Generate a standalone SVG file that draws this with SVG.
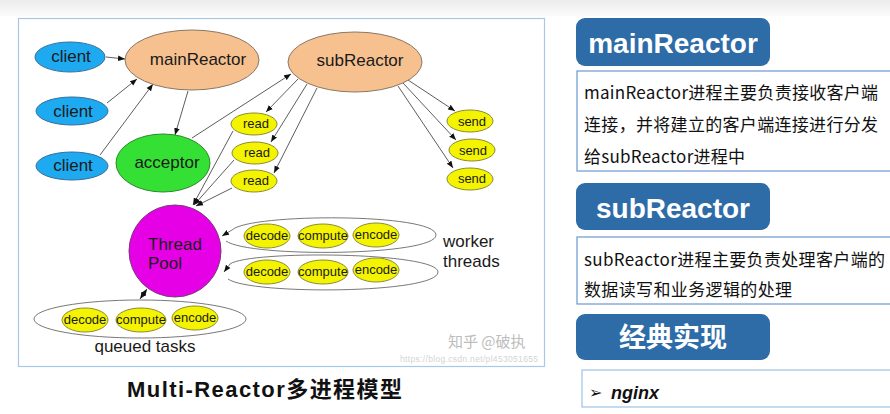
<svg xmlns="http://www.w3.org/2000/svg" width="890" height="414" viewBox="0 0 890 414">
<style>
.lbl{font-family:"Liberation Sans","Noto Sans",sans-serif;fill:#1a1a1a;text-anchor:middle}
.big{font-size:17px}
.sm{font-size:13px}
.cl{fill:#1eaaf0;stroke:#3a6d9a;stroke-width:1}
.rx{fill:#f6c08f;stroke:#8a7868;stroke-width:1}
.yl{fill:#f4f400;stroke:#8a8a3a;stroke-width:1}
.con{stroke:#333;stroke-width:0.8;fill:none;marker-end:url(#ah)}
.loop{stroke:#555;stroke-width:0.8;fill:none}
.hdr{fill:#2e6ca8}
.hdrt{font-family:"Liberation Sans","Noto Sans CJK SC",sans-serif;font-weight:bold;fill:#fff;text-anchor:middle}
.desc{fill:#fff;stroke:#6b98cf;stroke-width:1.2}
.dt{font-family:"Noto Sans CJK SC","Liberation Sans",sans-serif;font-size:17px;fill:#111}
</style>
<defs>
<linearGradient id="tb" x1="0" y1="0" x2="0" y2="1">
<stop offset="0" stop-color="#ececec"/><stop offset="1" stop-color="#fbfbfb"/>
</linearGradient>
<marker id="ah" viewBox="0 0 10 10" refX="10" refY="5" markerWidth="7" markerHeight="7" orient="auto-start-reverse" markerUnits="userSpaceOnUse">
<path d="M0,1 L10,5 L0,9 z" fill="#111"/>
</marker>
</defs>
<rect x="0" y="0" width="890" height="414" fill="#fff"/>
<rect x="0" y="0" width="890" height="16" fill="url(#tb)"/>
<rect x="18.5" y="18.5" width="526" height="348" fill="#fff" stroke="#a9c8e8" stroke-width="1.2"/>

<g id="connectors">
<line class="con" x1="106" y1="57" x2="125" y2="59"/>
<line class="con" x1="107" y1="103" x2="137" y2="79"/>
<line class="con" x1="100" y1="155" x2="153" y2="84"/>
<line class="con" x1="188" y1="91" x2="175" y2="135"/>
<line class="con" x1="192" y1="138" x2="291" y2="74"/>
<line class="con" x1="298" y1="79" x2="266" y2="112"/>
<line class="con" x1="307" y1="84" x2="271" y2="142"/>
<line class="con" x1="317" y1="88" x2="274" y2="173"/>
<line class="con" x1="233" y1="131" x2="193" y2="205"/>
<line class="con" x1="234" y1="160" x2="194" y2="205"/>
<line class="con" x1="232" y1="188" x2="196" y2="206"/>
<line class="con" x1="408" y1="80" x2="455" y2="111"/>
<line class="con" x1="403" y1="83" x2="456" y2="140"/>
<line class="con" x1="398" y1="86" x2="453" y2="168"/>
<line class="con" x1="140" y1="299" x2="147" y2="289" marker-start="url(#ah)"/>
<path class="loop" d="M226 241 C250 258 436 256 436 235 C436 213 250 213 232 230 L222 236" marker-end="url(#ah)"/>
<path class="loop" d="M228 279 C250 295 438 294 438 272 C438 252 250 250 230 264 L224 272" marker-end="url(#ah)"/>
<ellipse class="loop" cx="140" cy="319" rx="106" ry="19"/>
</g>

<g id="client1"><ellipse class="cl" cx="70" cy="57" rx="35" ry="15"/><text class="lbl big" x="71" y="62">client</text></g>
<g id="client2"><ellipse class="cl" cx="72" cy="111" rx="36" ry="14"/><text class="lbl big" x="73" y="117">client</text></g>
<g id="client3"><ellipse class="cl" cx="72" cy="166" rx="36" ry="14"/><text class="lbl big" x="73" y="171">client</text></g>
<g id="mainReactor"><ellipse class="rx" cx="192" cy="60" rx="67" ry="30"/><text class="lbl big" x="198" y="65">mainReactor</text></g>
<g id="subReactor"><ellipse class="rx" cx="355" cy="62" rx="67" ry="30"/><text class="lbl big" x="360" y="66">subReactor</text></g>
<g id="acceptor"><ellipse cx="163" cy="163" rx="47" ry="29" fill="#35e035" stroke="#2a8a2a"/><text class="lbl big" x="167" y="168">acceptor</text></g>
<g id="read1"><ellipse class="yl" cx="254" cy="124" rx="23" ry="11"/><text class="lbl sm" x="256" y="128">read</text></g>
<g id="read2"><ellipse class="yl" cx="255" cy="153" rx="23" ry="11"/><text class="lbl sm" x="257" y="157">read</text></g>
<g id="read3"><ellipse class="yl" cx="254" cy="181" rx="23" ry="11"/><text class="lbl sm" x="256" y="185">read</text></g>
<g id="send1"><ellipse class="yl" cx="470" cy="121" rx="23" ry="11"/><text class="lbl sm" x="472" y="126">send</text></g>
<g id="send2"><ellipse class="yl" cx="472" cy="150" rx="23" ry="11"/><text class="lbl sm" x="473" y="155">send</text></g>
<g id="send3"><ellipse class="yl" cx="470" cy="179" rx="23" ry="11"/><text class="lbl sm" x="472" y="183">send</text></g>
<g id="threadPool"><circle cx="175" cy="251" r="46" fill="#e600e6" stroke="#7a3a7a"/>
<text class="lbl big" x="148" y="250" style="text-anchor:start">Thread</text>
<text class="lbl big" x="148" y="269" style="text-anchor:start">Pool</text></g>
<g id="worker1">
<ellipse class="yl" cx="267" cy="236" rx="23" ry="12"/><text class="lbl sm" x="267" y="240">decode</text>
<ellipse class="yl" cx="323" cy="236" rx="25" ry="12"/><text class="lbl sm" x="323" y="240">compute</text>
<ellipse class="yl" cx="376" cy="235" rx="23" ry="12"/><text class="lbl sm" x="376" y="239">encode</text>
</g>
<g id="worker2">
<ellipse class="yl" cx="267" cy="272" rx="23" ry="12"/><text class="lbl sm" x="267" y="276">decode</text>
<ellipse class="yl" cx="323" cy="272" rx="25" ry="12"/><text class="lbl sm" x="323" y="276">compute</text>
<ellipse class="yl" cx="376" cy="270" rx="23" ry="12"/><text class="lbl sm" x="376" y="274">encode</text>
</g>
<g id="workerLabel"><text class="lbl big" x="443" y="247" style="text-anchor:start">worker</text><text class="lbl big" x="443" y="267" style="text-anchor:start">threads</text></g>
<g id="queued">
<ellipse class="yl" cx="85" cy="320" rx="23" ry="12"/><text class="lbl sm" x="85" y="324">decode</text>
<ellipse class="yl" cx="141" cy="320" rx="25" ry="12"/><text class="lbl sm" x="141" y="324">compute</text>
<ellipse class="yl" cx="195" cy="318" rx="23" ry="12"/><text class="lbl sm" x="195" y="322">encode</text>
<text class="lbl big" x="145" y="352">queued tasks</text>
</g>
<g id="watermark">
<text x="448" y="347" font-family="Noto Sans CJK SC,sans-serif" font-size="15" fill="#bdbdbd">知乎 @破执</text>
<text x="400" y="362" font-family="Liberation Sans,sans-serif" font-size="8.5" fill="#d4d4d4" textLength="138">https://blog.csdn.net/pl453051655</text>
</g>
<g id="title"><text x="127" y="397" font-family="Liberation Sans,Noto Sans CJK SC,sans-serif" font-weight="bold" font-size="22" fill="#111" textLength="275">Multi-Reactor多进程模型</text></g>

<g id="mainHdr"><rect class="hdr" x="576" y="18" width="194" height="48" rx="9"/><text class="hdrt" x="673" y="53" font-size="28">mainReactor</text></g>
<g id="mainDesc"><rect class="desc" x="577" y="71" width="330" height="100"/>
<text class="dt" x="584" y="99" textLength="294">mainReactor进程主要负责接收客户端</text>
<text class="dt" x="584" y="131" textLength="294">连接，并将建立的客户端连接进行分发</text>
<text class="dt" x="584" y="163" textLength="161">给subReactor进程中</text></g>
<g id="subHdr"><rect class="hdr" x="576" y="183" width="194" height="47" rx="9"/><text class="hdrt" x="673" y="218" font-size="28">subReactor</text></g>
<g id="subDesc"><rect class="desc" x="577" y="237" width="330" height="67"/>
<text class="dt" x="584" y="266" textLength="301">subReactor进程主要负责处理客户端的</text>
<text class="dt" x="584" y="296" textLength="208">数据读写和业务逻辑的处理</text></g>
<g id="implHdr"><rect class="hdr" x="576" y="314" width="194" height="46" rx="9"/><text class="hdrt" x="673" y="347" font-size="27" font-family="Noto Sans CJK SC,sans-serif">经典实现</text></g>
<g id="nginx"><rect x="582" y="370" width="320" height="37" fill="#fff" stroke="#9cc2e5" stroke-width="1.2"/>
<text x="589" y="398" font-family="DejaVu Sans,sans-serif" font-size="16" fill="#111">➢</text>
<text x="611" y="399" font-family="Liberation Sans,sans-serif" font-size="18" font-weight="bold" font-style="italic" fill="#111">nginx</text></g>
</svg>
